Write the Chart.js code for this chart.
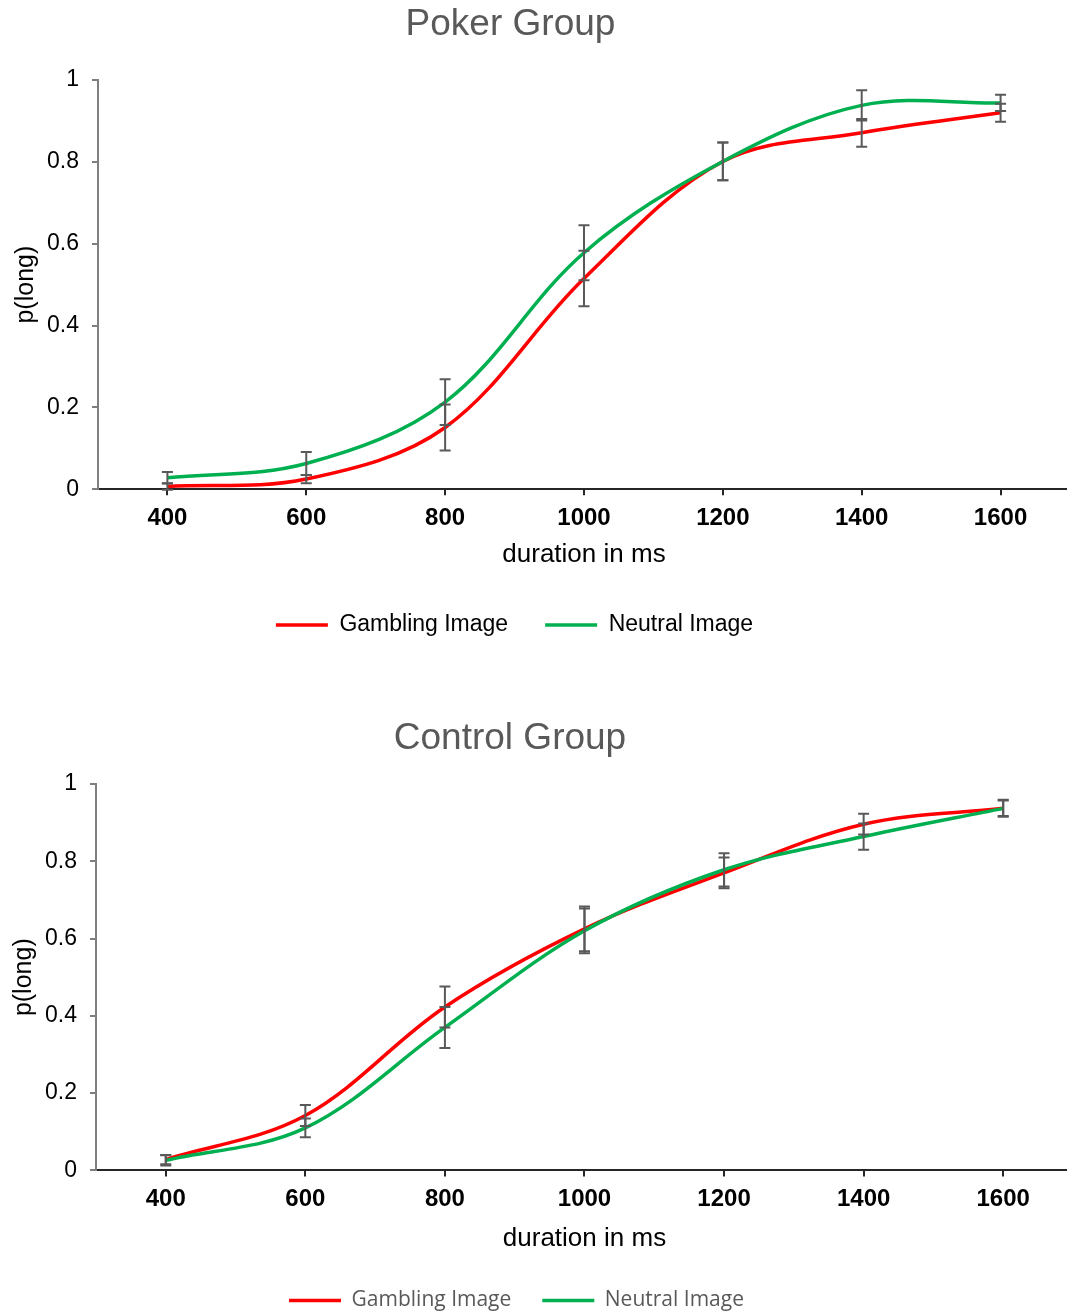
<!DOCTYPE html>
<html>
<head>
<meta charset="utf-8">
<script src="https://cdn.jsdelivr.net/npm/chart.js@4.4.0/dist/chart.umd.min.js"></script>
<style>
  html, body { margin: 0; padding: 0; background: #fff; overflow: hidden; }
  .box { position: relative; }
</style>
</head>
<body>
<div class="box" style="width:1070px;height:650px"><canvas id="pokerChart"></canvas></div>
<div class="box" style="width:1073px;height:671px"><canvas id="controlChart"></canvas></div>
<script>
// duracoes (eixo X) e valores
const durations = ['400', '600', '800', '1000', '1200', '1400', '1600'];

const pokerGambling = [0.007, 0.025, 0.151, 0.515, 0.801, 0.871, 0.920];
const pokerGamblingErr = [0.008, 0.010, 0.056, 0.068, 0.046, 0.034, 0.022];
const pokerNeutral = [0.028, 0.063, 0.213, 0.578, 0.801, 0.938, 0.944];
const pokerNeutralErr = [0.014, 0.028, 0.056, 0.067, 0.046, 0.037, 0.020];

const controlGambling = [0.028, 0.142, 0.423, 0.625, 0.770, 0.896, 0.937];
const controlGamblingErr = [0.012, 0.027, 0.053, 0.058, 0.040, 0.027, 0.020];
const controlNeutral = [0.026, 0.110, 0.370, 0.620, 0.778, 0.864, 0.937];
const controlNeutralErr = [0.013, 0.024, 0.053, 0.058, 0.043, 0.034, 0.022];

const seriesLabels = ['Gambling Image', 'Neutral Image'];
const seriesColors = ['#ff0000', '#00b050'];

const ARIAL = "'Liberation Sans', Arial, sans-serif";

// desenha as barras de erro por cima das linhas
const errorBars = {
  id: 'errorBars',
  afterDatasetsDraw(chart) {
    const ctx = chart.ctx;
    const yScale = chart.scales.y;
    chart.data.datasets.forEach((ds, i) => {
      if (!ds.errors) return;
      const meta = chart.getDatasetMeta(i);
      ctx.save();
      ctx.strokeStyle = '#595959';
      ctx.lineWidth = 2;
      meta.data.forEach((pt, j) => {
        const top = yScale.getPixelForValue(ds.data[j] + ds.errors[j]);
        const bot = yScale.getPixelForValue(ds.data[j] - ds.errors[j]);
        ctx.beginPath();
        ctx.moveTo(pt.x, top); ctx.lineTo(pt.x, bot);
        ctx.moveTo(pt.x - 5.5, top); ctx.lineTo(pt.x + 5.5, top);
        ctx.moveTo(pt.x - 5.5, bot); ctx.lineTo(pt.x + 5.5, bot);
        ctx.stroke();
      });
      ctx.restore();
    });
  }
};

// desloca titulo e legenda na horizontal (no original nao estao centrados no canvas)
const blockShift = {
  id: 'blockShift',
  afterLayout(chart, args, opts) {
    const pairs = [[chart.titleBlock, opts.title], [chart.legend, opts.legend]];
    pairs.forEach(([box, dx]) => {
      if (box && dx) { box.left += dx; box.right += dx; }
    });
  }
};

function createGroupChart(id, cfg) {
  const ctx = document.getElementById(id).getContext('2d');
  return new Chart(ctx, {
    type: 'line',
    data: {
      labels: durations,
      datasets: [
        {
          label: seriesLabels[0],
          data: cfg.gambling,
          errors: cfg.gamblingErr,
          borderColor: seriesColors[0],
          backgroundColor: seriesColors[0],
          borderWidth: 3.5,
          pointRadius: 0,
          tension: 0.35,
          fill: false,
          order: 1
        },
        {
          label: seriesLabels[1],
          data: cfg.neutral,
          errors: cfg.neutralErr,
          borderColor: seriesColors[1],
          backgroundColor: seriesColors[1],
          borderWidth: 3.5,
          pointRadius: 0,
          tension: 0.35,
          fill: false,
          order: 0
        }
      ]
    },
    options: {
      responsive: true,
      maintainAspectRatio: false,
      animation: false,
      events: [],
      layout: { padding: cfg.padding },
      plugins: {
        tooltip: { enabled: false },
        title: {
          display: true,
          text: cfg.title,
          color: '#595959',
          font: { family: ARIAL, size: 37, weight: 'normal' },
          padding: cfg.titlePadding
        },
        legend: {
          position: 'bottom',
          labels: {
            usePointStyle: true,
            pointStyle: 'line',
            pointStyleWidth: 52,
            padding: cfg.legendPadding,
            color: cfg.legendColor,
            font: cfg.legendFont,
            sort: (a, b) => a.datasetIndex - b.datasetIndex
          }
        },
        blockShift: cfg.shift
      },
      scales: {
        x: {
          type: 'category',
          offset: true,
          grid: {
            offset: false,
            drawOnChartArea: false,
            tickLength: 6,
            color: '#262626',
            lineWidth: 2
          },
          border: { color: '#262626', width: 2 },
          ticks: {
            color: '#000',
            padding: cfg.xTickPad,
            font: { family: ARIAL, size: 24, weight: 'bold' }
          },
          title: {
            display: true,
            text: 'duration in ms',
            color: '#000',
            font: { family: ARIAL, size: 26 },
            padding: cfg.xTitlePadding
          }
        },
        y: {
          min: 0,
          max: 1,
          grid: {
            drawOnChartArea: false,
            tickLength: 6,
            color: '#7f7f7f',
            lineWidth: 2
          },
          border: { color: '#7f7f7f', width: 2 },
          ticks: {
            stepSize: 0.2,
            padding: 13,
            color: '#000',
            font: { family: ARIAL, size: 23 },
            callback: v => String(Math.round(v * 10) / 10)
          },
          title: {
            display: true,
            text: 'p(long)',
            color: '#000',
            font: { family: ARIAL, size: 25 },
            padding: { top: 4, bottom: -7 }
          }
        }
      }
    },
    plugins: [errorBars, blockShift]
  });
}

document.addEventListener('DOMContentLoaded', () => {
  createGroupChart('pokerChart', {
    title: 'Poker Group',
    gambling: pokerGambling,
    gamblingErr: pokerGamblingErr,
    neutral: pokerNeutral,
    neutralErr: pokerNeutralErr,
    padding: { left: 7, right: 0, top: 0, bottom: 3.5 },
    titlePadding: { top: 3, bottom: 32.6 },
    xTickPad: 9,
    xTitlePadding: { top: -3, bottom: 6.2 },
    legendPadding: 37,
    legendColor: '#000',
    legendFont: { family: ARIAL, size: 23 },
    shift: { title: -28, legend: -24 }
  });

  createGroupChart('controlChart', {
    title: 'Control Group',
    gambling: controlGambling,
    gamblingErr: controlGamblingErr,
    neutral: controlNeutral,
    neutralErr: controlNeutralErr,
    padding: { left: 5, right: 0, top: 0, bottom: 0 },
    titlePadding: { top: 67, bottom: 22.6 },
    xTickPad: 8.8,
    xTitlePadding: { top: 0, bottom: 5 },
    legendPadding: 31,
    legendColor: '#595959',
    legendFont: { family: "'Open Sans', 'Noto Sans', sans-serif", size: 21 },
    shift: { title: -29, legend: -22.5 }
  });
});
</script>
</body>
</html>
